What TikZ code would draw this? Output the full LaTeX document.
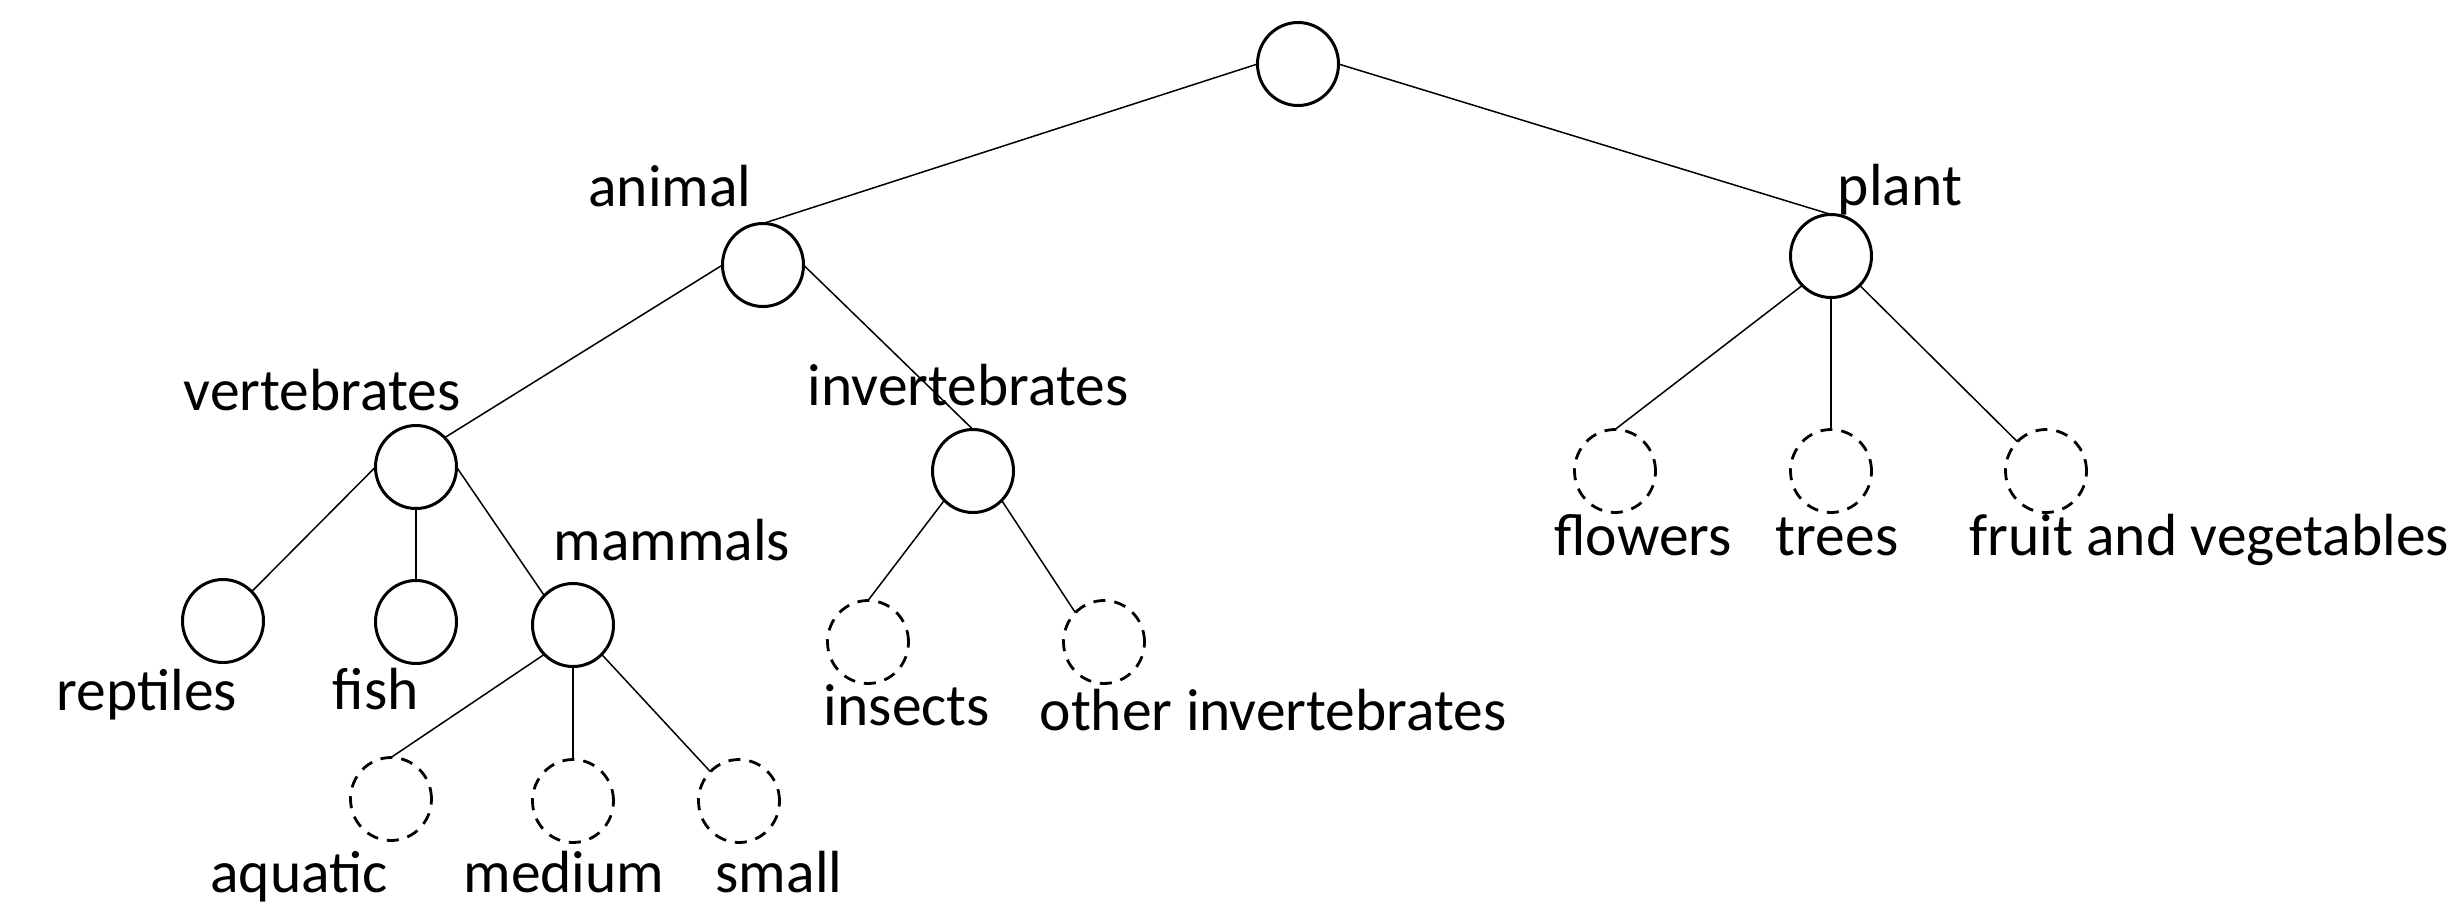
\documentclass[tikz,border=0pt]{standalone}
\usepackage{fontspec}
\setmainfont{Carlito}
\usetikzlibrary{shapes.geometric}
\begin{document}
\begin{tikzpicture}[x=1pt,y=-1pt,
  cnode/.style={ellipse, draw, line width=3pt, minimum width=81pt, minimum height=83pt, inner sep=0pt, outer sep=0pt},
  dnode/.style={cnode, line width=2.8pt, dash pattern=on 12pt off 9pt},
  lbl/.style={anchor=base, inner sep=0pt, font=\fontsize{59.5}{70}\selectfont},
  conn/.style={line width=1.5pt}]
\useasboundingbox (0,0) rectangle (2452,905);
% nodes
\node[cnode] (root) at (1298,64) {};
\node[cnode] (animal) at (763,265) {};
\node[cnode] (plant) at (1831,256) {};
\node[cnode] (vert) at (416,467) {};
\node[cnode] (invert) at (973,471) {};
\node[cnode] (rept) at (223,621) {};
\node[cnode] (fish) at (416,622) {};
\node[cnode] (mamm) at (573,625) {};
\node[dnode] (aqua) at (391,799) {};
\node[dnode] (med) at (573,801) {};
\node[dnode] (small) at (739,801) {};
\node[dnode] (ins) at (868,642) {};
\node[dnode] (oth) at (1104,642) {};
\node[dnode] (flow) at (1615,471) {};
\node[dnode] (trees) at (1831,471) {};
\node[dnode] (fruit) at (2046,471) {};
% labels
\node[lbl] (lanimal) at (670,206) {animal};
\node[lbl] (lplant) at (1900,205) {plant};
\node[lbl] (lvert) at (322,410) {vertebrates};
\node[lbl] (linvert) at (968,405) {invertebrates};
\node[lbl] (lmamm) at (672,560) {mammals};
\node[lbl] (lrept) at (147,710) {reptiles};
\node[lbl] (lfish) at (376,709) {fish};
\node[lbl] (lins) at (907,725) {insects};
\node[lbl] (loth) at (1273,730) {other invertebrates};
\node[lbl] (lflow) at (1643,555) {flowers};
\node[lbl] (ltrees) at (1837,555) {trees};
\node[lbl, anchor=base west] (lfruit) at (1969,555) {fruit and vegetables};
\node[lbl] (laqua) at (299,892) {aquatic};
\node[lbl] (lmed) at (564,892) {medium};
\node[lbl] (lsmall) at (779,892) {small};
% connectors
\draw[conn] (root.west) -- (animal.north);
\draw[conn] (root.east) -- (plant.north);
\draw[conn] (animal.west) -- (vert.north east);
\draw[conn] (animal.east) -- (invert.north);
\draw[conn] (vert.west) -- (rept.north east);
\draw[conn] (vert.south) -- (fish.north);
\draw[conn] (vert.east) -- (mamm.north west);
\draw[conn] (mamm.south west) -- (aqua.north);
\draw[conn] (mamm.south) -- (med.north);
\draw[conn] (mamm.south east) -- (small.north west);
\draw[conn] (invert.south west) -- (ins.north);
\draw[conn] (invert.south east) -- (oth.north west);
\draw[conn] (plant.south west) -- (flow.north);
\draw[conn] (plant.south) -- (trees.north);
\draw[conn] (plant.south east) -- (fruit.north west);
\end{tikzpicture}
\end{document}
